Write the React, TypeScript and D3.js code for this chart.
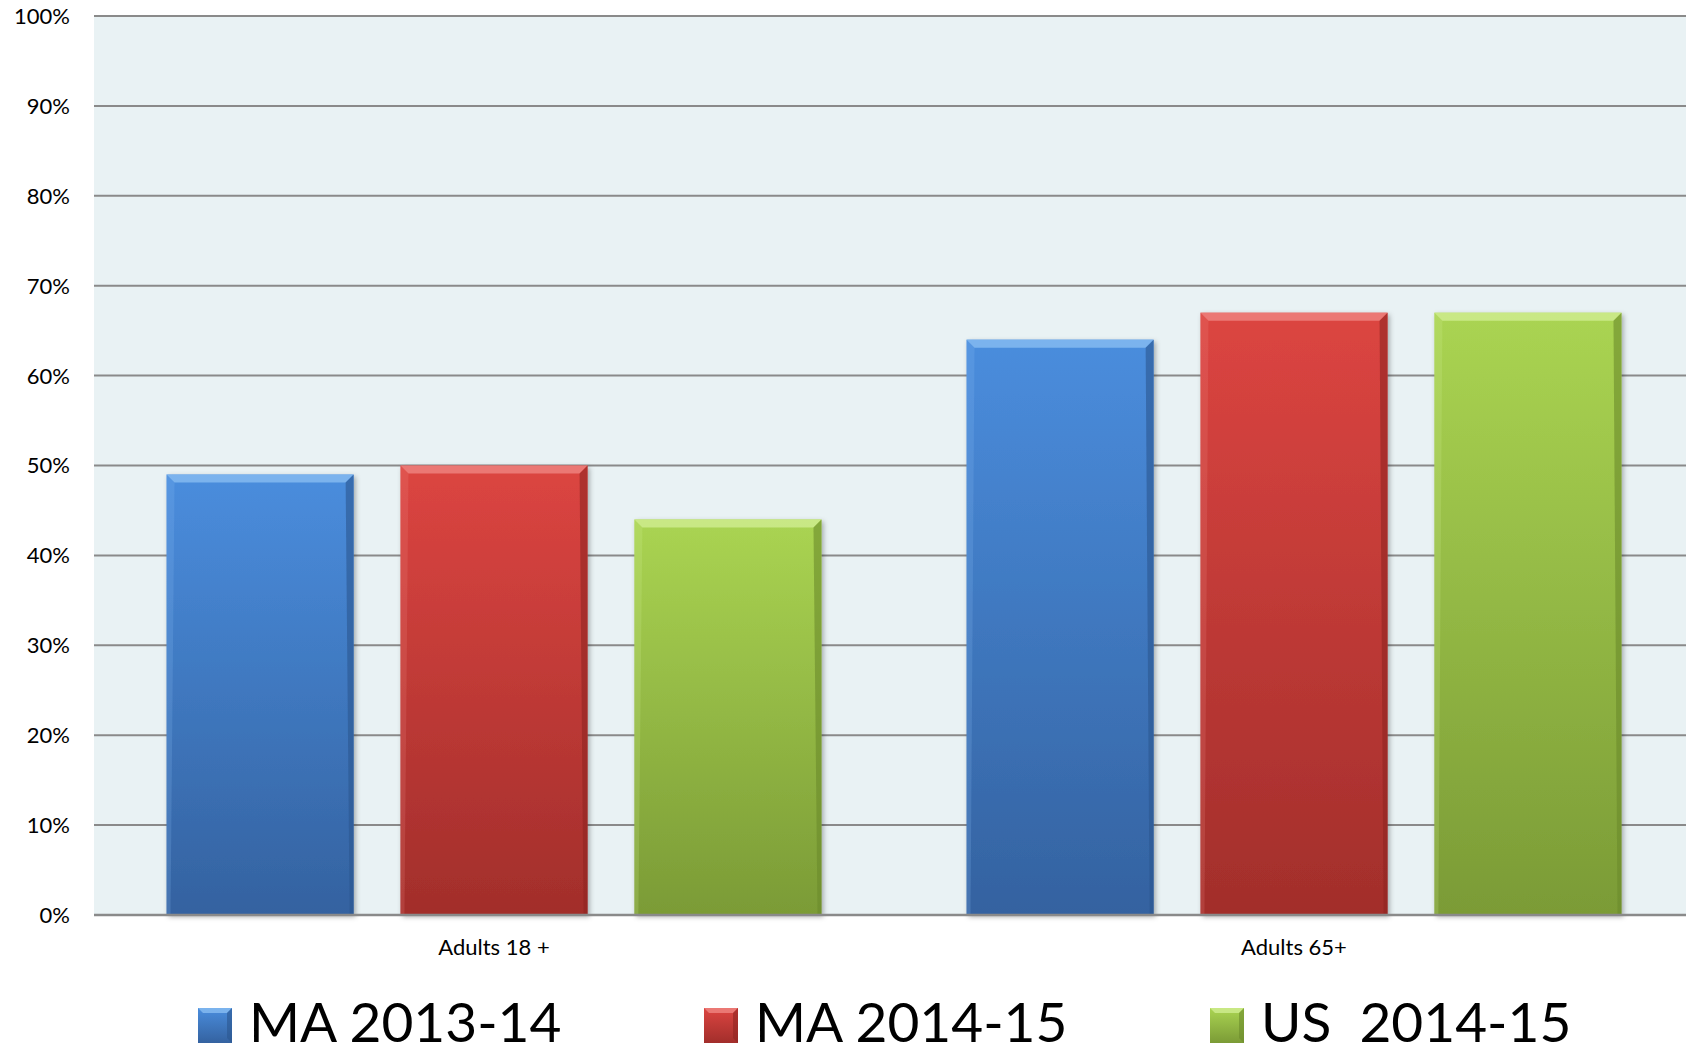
import * as d3 from "d3";

const groups = ["Adults 18 +", "Adults 65+"];
const seriesNames = ["MA 2013-14", "MA 2014-15", "US  2014-15"];
const ma1314 = [49, 64];
const ma1415 = [50, 67];
const us1415 = [44, 67];
const yTicks = [0, 10, 20, 30, 40, 50, 60, 70, 80, 90, 100];

const seriesValues = [ma1314, ma1415, us1415];
const palette = [
  { top: "#4a8ddd", bottom: "#3462a0", light: "#8cc0f3", dark: "#2c5790" },
  { top: "#dc4541", bottom: "#a22e2b", light: "#f08a86", dark: "#8f2522" },
  { top: "#aad452", bottom: "#7b9b36", light: "#d3ef95", dark: "#6b8a2b" },
];

const width = 1686;
const height = 1053;
const marginLeft = 94;
const plotRight = 1694;
const marginTop = 16;
const plotBottom = 915;
const font = "Lato, 'Open Sans', sans-serif";

export default function App() {
  const x0 = d3.scaleBand(groups, [marginLeft, plotRight]);
  const x1 = d3
    .scaleBand(seriesNames, [0, x0.bandwidth()])
    .paddingInner(0.2)
    .paddingOuter(0.31);
  const y = d3.scaleLinear([0, 100], [plotBottom, marginTop]);
  const bev = 8;

  return (
    <svg
      width={width}
      height={height}
      style={{ position: "absolute", left: 0, top: 0, display: "block", background: "#fff" }}
      fontFamily={font}
    >
      <defs>
        {palette.map((c, i) => (
          <linearGradient key={i} id={`g${i}`} x1="0" y1="0" x2="0" y2="1">
            <stop offset="0" stopColor={c.top} />
            <stop offset="1" stopColor={c.bottom} />
          </linearGradient>
        ))}
        <filter id="shadow" x="-10%" y="-10%" width="130%" height="130%">
          <feDropShadow dx="2" dy="2" stdDeviation="2.5" floodColor="#000" floodOpacity="0.3" />
        </filter>
      </defs>

      <rect x={marginLeft} y={marginTop} width={plotRight - marginLeft} height={plotBottom - marginTop} fill="#e9f2f4" />

      {yTicks.map((t) => (
        <g key={t}>
          <line x1={marginLeft} x2={plotRight} y1={y(t)} y2={y(t)} stroke="#8a8a8a" strokeWidth={2} />
          <text x={70} y={y(t)} dy="0.36em" textAnchor="end" fontSize={22} fill="#000">
            {t}%
          </text>
        </g>
      ))}

      {groups.map((g, gi) => (
        <g key={g} transform={`translate(${x0(g)},0)`}>
          {seriesNames.map((s, si) => {
            const v = seriesValues[si][gi];
            const bx = x1(s) as number;
            const bw = x1.bandwidth();
            const by = y(v);
            const bh = y(0) - by;
            const c = palette[si];
            return (
              <g key={s}>
                <rect x={bx} y={by} width={bw} height={bh} fill={`url(#g${si})`} filter="url(#shadow)" />
                <polygon
                  points={`${bx},${by} ${bx + bw},${by} ${bx + bw - bev},${by + bev} ${bx + bev},${by + bev}`}
                  fill={c.light}
                  opacity={0.75}
                />
                <polygon
                  points={`${bx + bw},${by} ${bx + bw},${by + bh} ${bx + bw - 4},${by + bh} ${bx + bw - bev},${by + bev}`}
                  fill={c.dark}
                  opacity={0.6}
                />
                <polygon
                  points={`${bx},${by} ${bx + bev},${by + bev} ${bx + 4},${by + bh} ${bx},${by + bh}`}
                  fill={c.light}
                  opacity={0.2}
                />
              </g>
            );
          })}
          <text x={x0.bandwidth() / 2} y={955} textAnchor="middle" fontSize={22} fill="#000">
            {g}
          </text>
        </g>
      ))}

      <line x1={marginLeft} x2={plotRight} y1={y(0)} y2={y(0)} stroke="#8a8a8a" strokeWidth={2.5} />

      {seriesNames.map((s, i) => {
        const lx = 198 + i * 506;
        const c = palette[i];
        return (
          <g key={s}>
            <rect x={lx} y={1008} width={34} height={35} fill={`url(#g${i})`} />
            <polygon points={`${lx},1008 ${lx + 34},1008 ${lx + 29},1013 ${lx + 5},1013`} fill={c.light} opacity={0.75} />
            <polygon points={`${lx + 34},1008 ${lx + 34},1043 ${lx + 29},1038 ${lx + 29},1013`} fill={c.dark} opacity={0.6} />
            <text x={lx + 51} y={1042} fontSize={55} fill="#000" style={{ whiteSpace: "pre" }}>
              {s}
            </text>
          </g>
        );
      })}
    </svg>
  );
}
